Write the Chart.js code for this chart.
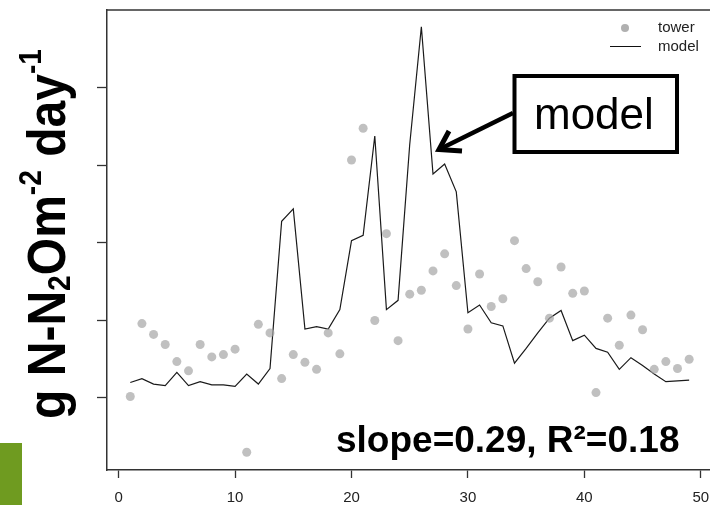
<!DOCTYPE html>
<html>
<head>
<meta charset="utf-8">
<script src="https://cdn.jsdelivr.net/npm/chart.js"></script>
<style>
  html, body { margin: 0; padding: 0; background: #fff; overflow: hidden; }
  #wrap { width: 716px; height: 505px; position: relative; }
</style>
</head>
<body>
<div id="wrap"><canvas id="flux"></canvas></div>
<script>
// day index along x
var days = [1, 2, 3, 4, 5, 6, 7, 8, 9, 10, 11, 12, 13, 14, 15, 16, 17, 18, 19, 20,
            21, 22, 23, 24, 25, 26, 27, 28, 29, 30, 31, 32, 33, 34, 35, 36, 37, 38, 39, 40,
            41, 42, 43, 44, 45, 46, 47, 48, 49];

// tower observations (grey dots)
var towerFlux = [1.02, 1.96, 1.82, 1.69, 1.47, 1.35, 1.69, 1.53, 1.56, 1.63,
                 0.30, 1.95, 1.84, 1.25, 1.56, 1.46, 1.37, 1.84, 1.57, 4.07,
                 4.48, 2.00, 3.12, 1.74, 2.34, 2.39, 2.64, 2.86, 2.45, 1.89,
                 2.60, 2.18, 2.28, 3.03, 2.67, 2.50, 2.03, 2.69, 2.35, 2.38,
                 1.07, 2.03, 1.68, 2.07, 1.88, 1.37, 1.47, 1.38, 1.50];

// model output (black line)
var modelFlux = [1.20, 1.25, 1.18, 1.16, 1.33, 1.16, 1.21, 1.17, 1.17, 1.15,
                 1.31, 1.18, 1.38, 3.28, 3.44, 1.89, 1.92, 1.89, 2.14, 3.03,
                 3.10, 4.38, 2.14, 2.26, 4.27, 5.79, 3.89, 4.02, 3.66, 2.10,
                 2.20, 1.97, 1.93, 1.45, 1.64, 1.84, 2.03, 2.13, 1.74, 1.81,
                 1.64, 1.59, 1.37, 1.52, 1.42, 1.31, 1.21, 1.22, 1.23];

var xTicks = [0, 10, 20, 30, 40, 50];
var yTicks = [1, 2, 3, 4, 5];

function pts(ys) {
  return days.map(function (d, i) { return { x: d, y: ys[i] }; });
}

var FONT = '"Liberation Sans", Arial, sans-serif';

// extra drawing: frame top, y title, annotation, legend, stats
var decor = {
  id: 'decor',
  afterDraw: function (chart) {
    var ctx = chart.ctx;
    var a = chart.chartArea;
    ctx.save();

    // top line of the box
    ctx.strokeStyle = '#333';
    ctx.lineWidth = 1.5;
    ctx.beginPath();
    ctx.moveTo(a.left, a.top);
    ctx.lineTo(a.right + 10, a.top);
    ctx.stroke();

    // green slide block
    ctx.fillStyle = '#6f9b20';
    ctx.fillRect(0, 443, 22, 62);

    // y axis title with sub/superscripts
    var parts = [
      { t: 'g N-N', s: 1, dy: 0 },
      { t: '2', s: 0.58, dy: 5 },
      { t: 'Om', s: 1, dy: 0 },
      { t: '-2', s: 0.58, dy: -24 },
      { t: ' day', s: 1, dy: 0 },
      { t: '-1', s: 0.58, dy: -24 }
    ];
    var size = 53;
    var total = 0;
    parts.forEach(function (p) {
      ctx.font = 'bold ' + Math.round(size * p.s) + 'px ' + FONT;
      p.w = ctx.measureText(p.t).width;
      total += p.w;
    });
    ctx.translate(65, 419);
    ctx.rotate(-Math.PI / 2);
    ctx.scale(370 / total, 1);
    ctx.fillStyle = '#000';
    ctx.textBaseline = 'alphabetic';
    var cx = 0;
    parts.forEach(function (p) {
      ctx.font = 'bold ' + Math.round(size * p.s) + 'px ' + FONT;
      ctx.fillText(p.t, cx, p.dy);
      cx += p.w;
    });
    ctx.setTransform(1, 0, 0, 1, 0, 0);

    // annotation box
    ctx.strokeStyle = '#000';
    ctx.lineWidth = 4;
    ctx.strokeRect(514.5, 76, 162.5, 76);
    ctx.fillStyle = '#000';
    ctx.font = '44px ' + FONT;
    ctx.textAlign = 'left';
    ctx.fillText('model', 534, 129);

    // arrow to the model line
    ctx.lineWidth = 4.5;
    ctx.lineCap = 'butt';
    ctx.beginPath();
    ctx.moveTo(513, 113);
    ctx.lineTo(442, 148);
    ctx.stroke();
    ctx.lineJoin = 'miter';
    ctx.lineWidth = 5;
    ctx.beginPath();
    ctx.moveTo(449, 131);
    ctx.lineTo(439, 149.5);
    ctx.lineTo(462, 151);
    ctx.stroke();

    // stats text
    ctx.font = 'bold 37px ' + FONT;
    ctx.fillText('slope=0.29, R\u00b2=0.18', 336, 452);

    // legend
    ctx.fillStyle = '#b0b0b0';
    ctx.beginPath();
    ctx.arc(625, 28, 4, 0, Math.PI * 2);
    ctx.fill();
    ctx.strokeStyle = '#111';
    ctx.lineWidth = 1;
    ctx.beginPath();
    ctx.moveTo(610, 46.5);
    ctx.lineTo(641, 46.5);
    ctx.stroke();
    ctx.fillStyle = '#222';
    ctx.font = '15px ' + FONT;
    ctx.textBaseline = 'middle';
    ctx.fillText('tower', 658, 28);
    ctx.fillText('model', 658, 46.5);

    ctx.restore();
  }
};

var chart = new Chart(document.getElementById('flux').getContext('2d'), {
  type: 'scatter',
  data: {
    datasets: [
      {
        label: 'tower',
        data: pts(towerFlux),
        pointRadius: 4.5,
        pointBackgroundColor: 'rgba(165,165,165,0.7)',
        pointBorderWidth: 0,
        showLine: false
      },
      {
        label: 'model',
        data: pts(modelFlux),
        showLine: true,
        borderColor: '#1a1a1a',
        borderWidth: 1.2,
        pointRadius: 0,
        tension: 0
      }
    ]
  },
  options: {
    responsive: true,
    maintainAspectRatio: false,
    animation: false,
    devicePixelRatio: 1,
    layout: { padding: { top: 10, right: 4, bottom: 0, left: 0 } },
    plugins: {
      legend: { display: false },
      tooltip: { enabled: false }
    },
    scales: {
      x: {
        type: 'linear',
        min: -1,
        max: 50.92,
        afterBuildTicks: function (s) { s.ticks = xTicks.map(function (v) { return { value: v }; }); },
        afterFit: function (s) { s.height = 35; s.paddingLeft = 0; s.paddingRight = 0; },
        grid: { drawOnChartArea: false, tickLength: 8, color: '#333', tickWidth: 1.3 },
        border: { color: '#333', width: 1.5 },
        ticks: { color: '#222', font: { family: FONT, size: 15 }, padding: 11, maxRotation: 0 }
      },
      y: {
        type: 'linear',
        min: 0.071,
        max: 6.006,
        afterBuildTicks: function (s) { s.ticks = yTicks.map(function (v) { return { value: v }; }); },
        afterFit: function (s) { s.width = 107; s.paddingTop = 0; s.paddingBottom = 0; },
        grid: { drawOnChartArea: false, tickLength: 10, color: '#333', tickWidth: 1.3 },
        border: { color: '#333', width: 1.5 },
        ticks: { display: false }
      }
    }
  },
  plugins: [decor]
});
</script>
</body>
</html>
